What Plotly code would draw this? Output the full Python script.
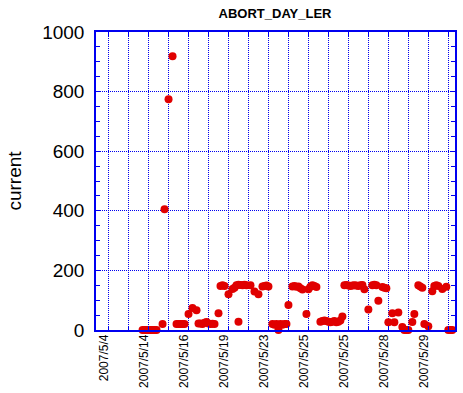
import plotly.graph_objects as go

# sample index (x) and measured current (y)
sample_index = [17, 18, 19, 20, 21, 22, 23, 24,
                27, 28, 30, 32,
                34, 35, 36, 37, 38,
                40, 42, 44, 45,
                46, 47, 48, 49, 50, 51, 52, 53,
                55, 56, 57, 58, 60, 62, 63,
                64, 65, 65, 66, 67, 68, 69,
                71, 73, 75, 77, 78, 79, 80,
                82, 83, 84, 85, 86, 87, 88, 89,
                90, 92, 93, 94, 95, 96, 97, 99,
                100, 101, 102, 103, 104,
                106, 107, 108, 109, 110, 111, 112, 113, 114, 115, 116, 117,
                118, 119, 120, 121, 122, 123, 124, 125, 126, 127,
                128, 130, 132, 133, 134, 135, 137, 138, 139,
                140, 142, 143, 145, 147, 148, 149, 150,
                152, 153, 155, 156, 157, 158, 160,
                162, 163, 164, 165, 167, 169, 170, 171, 172]
current = [0, 0, 0, 0, 0, 0, 0, 0,
           20, 405, 774, 919,
           20, 20, 20, 20, 20,
           54, 74, 66, 22,
           22, 20, 24, 27, 22, 20, 21, 20,
           56, 148, 150, 148, 120, 138, 142,
           150, 152, 28, 151, 150, 152, 150,
           150, 129, 120, 146, 148, 149, 146,
           20, 18, 20, 0, 20, 18, 20, 20,
           84, 146, 148, 145, 146, 140, 136, 54,
           137, 145, 150, 148, 144,
           28, 30, 32, 30, 28, 26, 28, 30, 26, 28, 32, 45,
           150, 151, 149, 148, 149, 150, 149, 148, 150, 151,
           137, 69, 150, 152, 150, 98, 144, 142, 140,
           26, 56, 26, 59, 10, 0, 0, 0,
           27, 54, 150, 146, 142, 20, 13,
           130, 148, 150, 148, 138, 145, 0, 0, 0]

date_labels = ["2007/5/4", "2007/5/14", "2007/5/16", "2007/5/19", "2007/5/23",
               "2007/5/25", "2007/5/25", "2007/5/28", "2007/5/29"]

grid_vals = list(range(0, 171, 10))
grid_text = [date_labels[i // 2] if i % 2 == 0 else "" for i in range(len(grid_vals))]

BLUE = "#0000f0"
RED = "#e00000"
FONT = "Liberation Sans, Arial, sans-serif"

fig = go.Figure()
fig.add_trace(go.Scatter(
    x=sample_index, y=current, mode="markers",
    marker=dict(color=RED, size=8, line=dict(width=0)),
    cliponaxis=False, showlegend=False,
))

fig.update_layout(
    width=463, height=393,
    margin=dict(l=96, r=8, t=32, b=63, autoexpand=False),
    paper_bgcolor="white", plot_bgcolor="white",
    title=dict(text="ABORT_DAY_LER", x=0.594, xanchor="center",
               y=1 - 13 / 393, yanchor="middle",
               font=dict(family=FONT, size=13, color="black", weight="bold")),
    font=dict(family=FONT, color="black"),
)

fig.update_xaxes(
    range=[-6.3, 173.35], tickmode="array", tickvals=grid_vals, ticktext=grid_text,
    tickangle=-90, tickfont=dict(size=12, color="black", family=FONT),
    ticklabelshift=-4, ticklabelstandoff=-2,
    showgrid=True, gridcolor=BLUE, griddash="1px,1px", gridwidth=1,
    showline=True, linecolor=BLUE, linewidth=1.5, mirror="ticks",
    ticks="inside", ticklen=4, tickcolor=BLUE, tickwidth=1,
    zeroline=False, automargin=False,
)

fig.update_yaxes(
    range=[0, 1000], tickmode="linear", tick0=0, dtick=200,
    tickfont=dict(size=19, color="black", family=FONT),
    ticklabelstandoff=6,
    showgrid=True, gridcolor=BLUE, griddash="1px,1px", gridwidth=1,
    showline=True, linecolor=BLUE, linewidth=1.5, mirror="ticks",
    ticks="inside", ticklen=4, tickcolor=BLUE, tickwidth=1,
    minor=dict(dtick=50, tick0=0, ticks="inside", ticklen=4, tickcolor=BLUE,
               tickwidth=1, showgrid=False),
    zeroline=False, automargin=False,
    title=dict(text="current", font=dict(size=19, color="black", family=FONT),
               standoff=16),
)

fig.write_html("out.html", config={"displayModeBar": False},
               post_script="document.body.style.margin='0';")
